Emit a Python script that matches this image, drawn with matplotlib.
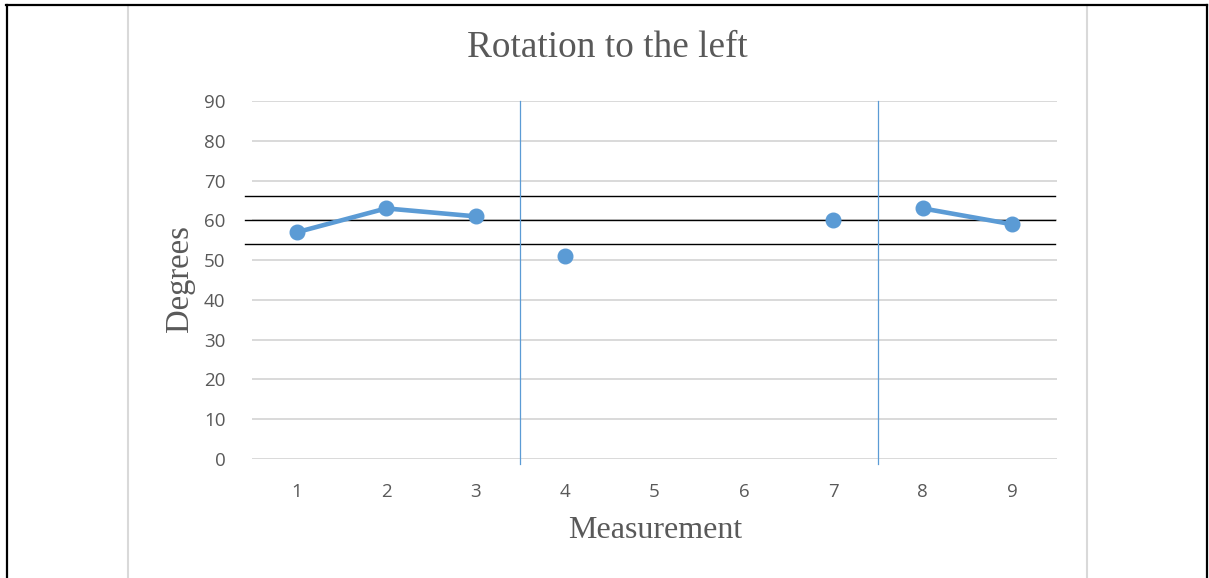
import numpy as np
import matplotlib.pyplot as plt
from matplotlib.lines import Line2D

# measurements 5 and 6 have no value; segments break at the phase lines
measurement = [1, 2, 3, 4, 5, 6, 7, 8, 9]
degrees = [57, 63, 61, 51, None, None, 60, 63, 59]
segments = [[1, 2, 3], [4], [7], [8, 9]]
phase_lines = [3.5, 7.5]
band = [54, 60, 66]
yticks = [0, 10, 20, 30, 40, 50, 60, 70, 80, 90]

blue = '#5b9bd5'
grey_txt = '#595959'

fig = plt.figure(figsize=(12.09, 5.78), dpi=100)
W, H = 1209, 578
ax = fig.add_axes([252 / W, 1 - 459 / H, (1057 - 252) / W, (459 - 101) / H])

ax.set_xlim(0.5, 9.5)
ax.set_ylim(0, 90)
for s in ax.spines.values():
    s.set_visible(False)

for t in yticks:
    ax.axhline(t, color='#d9d9d9', lw=1.4, zorder=1)

for b in band:
    ax.axhline(b, xmin=-0.009, xmax=0.998, color='black', lw=1.0, zorder=2, clip_on=False)

for p in phase_lines:
    ax.plot([p, p], [-1.3, 90], color=blue, lw=0.9, zorder=2, clip_on=False)

for seg in segments:
    xs = [measurement[i - 1] for i in seg]
    ys = [degrees[i - 1] for i in seg]
    ax.plot(xs, ys, color=blue, lw=3.3, marker='o', markersize=10.5, zorder=3)

ax.set_xticks(measurement)
ax.set_xticklabels([str(m) for m in measurement])
ax.set_yticks(yticks)
ax.tick_params(length=0, colors=grey_txt, labelsize=13.5)
ax.tick_params(axis='y', pad=19)
ax.tick_params(axis='x', pad=17)
for lab in ax.get_xticklabels() + ax.get_yticklabels():
    lab.set_family('Open Sans')

serif = 'Liberation Serif'
fig.text(607 / W, 1 - 48 / H, 'Rotation to the left', ha='center', va='center',
         family=serif, fontsize=26.8, color=grey_txt)
fig.text(655 / W, 1 - 530 / H, 'Measurement', ha='center', va='center',
         family=serif, fontsize=23, color=grey_txt)
fig.text(180 / W, 1 - 279 / H, 'Degrees', ha='center', va='center', rotation=90,
         family=serif, fontsize=23.5, color=grey_txt)

# chart area border (grey) and page frame (black)
for x in [127.5, 1087]:
    fig.add_artist(Line2D([x / W, x / W], [0, 1 - 5 / H], color='#d9d9d9', lw=1.5))
fig.add_artist(Line2D([6.5 / W, 6.5 / W], [0, 1 - 5 / H], color='black', lw=1.6))
fig.add_artist(Line2D([1206.5 / W, 1206.5 / W], [0, 1 - 5 / H], color='black', lw=1.6))
fig.add_artist(Line2D([6 / W, 1207 / W], [1 - 5 / H, 1 - 5 / H], color='black', lw=1.6))

fig.savefig('out.png', dpi=100)
